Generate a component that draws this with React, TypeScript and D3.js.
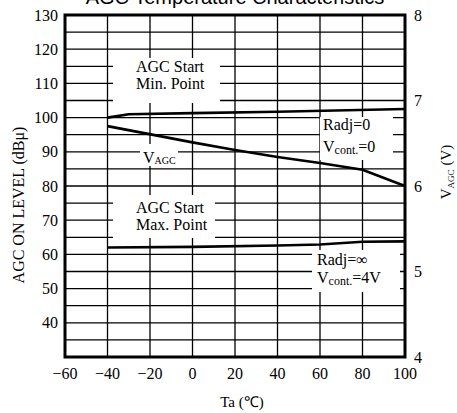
import React, { useEffect, useRef } from "react";
import * as d3 from "d3";

// temperature axis (Ta, deg C)
const xTicks = [-60, -40, -20, 0, 20, 40, 60, 80, 100];
const leftTicks = [130, 120, 110, 100, 90, 80, 70, 60, 50, 40];
const rightTicks = [8, 7, 6, 5, 4];

// AGC start min. point (left axis, dBu)
const minTemp = [-40, -30, 0, 40, 100];
const minLevel = [100, 101, 101.3, 101.7, 102.5];

// V_AGC (right axis, V)
const vagcTemp = [-40, 0, 20, 40, 60, 80, 100];
const vagcVolt = [6.7, 6.51, 6.42, 6.34, 6.27, 6.19, 6.0];

// AGC start max. point (left axis, dBu)
const maxTemp = [-40, 0, 40, 60, 80, 100];
const maxLevel = [62, 62.2, 62.6, 62.9, 63.7, 63.8];

const W = 457;
const H = 413;
const serif = "'Liberation Serif', 'Times New Roman', serif";

export default function App() {
  const ref = useRef<SVGSVGElement>(null);

  useEffect(() => {
    const svg = d3.select(ref.current);
    svg.selectAll("*").remove();

    const x = d3.scaleLinear().domain([-60, 100]).range([65, 405]);
    const yL = d3.scaleLinear().domain([30, 130]).range([357, 15]);
    const yR = d3.scaleLinear().domain([4, 8]).range([357, 15]);

    svg.append("rect").attr("width", W).attr("height", H).attr("fill", "#fff");

    // title (cut off at the top in the original)
    svg
      .append("text")
      .attr("x", 235)
      .attr("y", 4)
      .attr("text-anchor", "middle")
      .attr("font-family", "'Liberation Sans', Arial, sans-serif")
      .attr("font-size", 20)
      .text("AGC Temperature Characteristics");

    const grid = svg.append("g").attr("stroke", "#000").attr("stroke-width", 1.3);
    d3.range(35, 130, 5).forEach(v => {
      grid
        .append("line")
        .attr("x1", x(-60))
        .attr("x2", x(100))
        .attr("y1", yL(v))
        .attr("y2", yL(v));
    });
    xTicks.slice(1, -1).forEach(t => {
      grid
        .append("line")
        .attr("x1", x(t))
        .attr("x2", x(t))
        .attr("y1", yL(130))
        .attr("y2", yL(30));
    });

    // white label backgrounds that break the grid
    const boxes = [
      [113, 58, 107, 45],
      [140, 144, 38, 22],
      [320, 117, 73, 43],
      [113, 195, 102, 43],
      [312, 250, 88, 42]
    ];
    boxes.forEach(b => {
      svg
        .append("rect")
        .attr("x", b[0])
        .attr("y", b[1])
        .attr("width", b[2])
        .attr("height", b[3])
        .attr("fill", "#fff");
    });

    const lineL = d3
      .line<[number, number]>()
      .x(d => x(d[0]))
      .y(d => yL(d[1]));
    const lineR = d3
      .line<[number, number]>()
      .x(d => x(d[0]))
      .y(d => yR(d[1]));

    const curves = svg
      .append("g")
      .attr("fill", "none")
      .attr("stroke", "#000")
      .attr("stroke-width", 2.6);
    curves.append("path").attr("d", lineL(minTemp.map((t, i) => [t, minLevel[i]])));
    curves.append("path").attr("d", lineR(vagcTemp.map((t, i) => [t, vagcVolt[i]])));
    curves.append("path").attr("d", lineL(maxTemp.map((t, i) => [t, maxLevel[i]])));

    // frame
    svg
      .append("rect")
      .attr("x", x(-60))
      .attr("y", yL(130))
      .attr("width", x(100) - x(-60))
      .attr("height", yL(30) - yL(130))
      .attr("fill", "none")
      .attr("stroke", "#000")
      .attr("stroke-width", 3);

    const txt = svg.append("g").attr("font-family", serif).attr("fill", "#000");

    leftTicks.forEach(v => {
      txt
        .append("text")
        .attr("x", 58)
        .attr("y", yL(v))
        .attr("dy", "0.35em")
        .attr("text-anchor", "end")
        .attr("font-size", 16)
        .text(v);
    });
    rightTicks.forEach(v => {
      txt
        .append("text")
        .attr("x", 414)
        .attr("y", yR(v))
        .attr("dy", "0.35em")
        .attr("font-size", 16)
        .text(v);
    });
    xTicks.forEach(t => {
      txt
        .append("text")
        .attr("x", x(t))
        .attr("y", 379)
        .attr("text-anchor", "middle")
        .attr("font-size", 16)
        .text(t < 0 ? "\u2212" + Math.abs(t) : String(t));
    });

    txt
      .append("text")
      .attr("x", 242)
      .attr("y", 407)
      .attr("text-anchor", "middle")
      .attr("font-size", 15)
      .text("Ta (\u2103)");

    txt
      .append("text")
      .attr("transform", "translate(24,205) rotate(-90)")
      .attr("text-anchor", "middle")
      .attr("font-size", 16)
      .text("AGC ON LEVEL (dB\u03bc)");

    const rl = txt
      .append("text")
      .attr("transform", "translate(451,172) rotate(-90)")
      .attr("text-anchor", "middle")
      .attr("font-size", 15);
    rl.append("tspan").text("V");
    rl.append("tspan").attr("font-size", 9).attr("dy", 3).text("AGC");
    rl.append("tspan").attr("dy", -3).text(" (V)");

    const label = (lx: number, ly: number, s: string) =>
      txt.append("text").attr("x", lx).attr("y", ly).attr("font-size", 16).text(s);

    label(136, 72, "AGC Start");
    label(136, 89, "Min. Point");
    label(136, 213, "AGC Start");
    label(136, 230, "Max. Point");
    label(323, 130, "Radj=0");
    label(317, 265, "Radj=\u221e");

    const v1 = txt.append("text").attr("x", 143).attr("y", 163).attr("font-size", 16);
    v1.append("tspan").text("V");
    v1.append("tspan").attr("font-size", 10).attr("dy", 1).text("AGC");

    const v2 = txt.append("text").attr("x", 323).attr("y", 152).attr("font-size", 16);
    v2.append("tspan").text("V");
    v2.append("tspan").attr("font-size", 12).attr("dy", 2).text("cont.");
    v2.append("tspan").attr("dy", -2).text("=0");

    const v3 = txt.append("text").attr("x", 317).attr("y", 283).attr("font-size", 16);
    v3.append("tspan").text("V");
    v3.append("tspan").attr("font-size", 12).attr("dy", 2).text("cont.");
    v3.append("tspan").attr("dy", -2).text("=4V");
  }, []);

  return (
    <svg
      ref={ref}
      width={W}
      height={H}
      style={{ position: "absolute", left: 0, top: 0 }}
    />
  );
}
